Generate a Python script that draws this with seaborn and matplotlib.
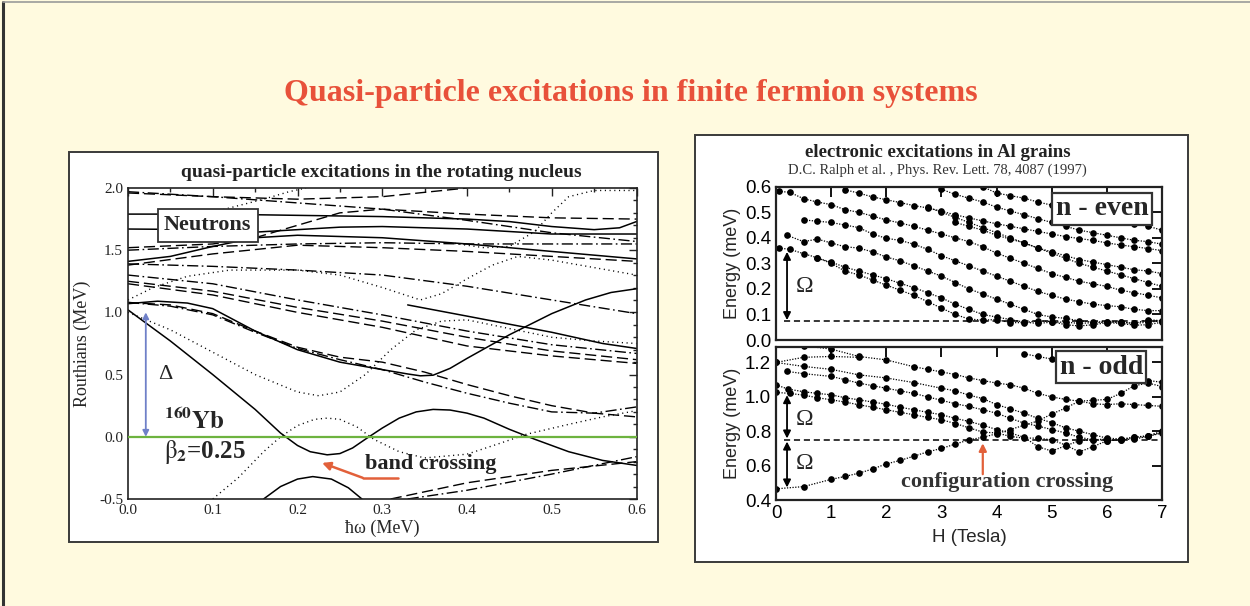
import numpy as np
import pandas as pd
import matplotlib
matplotlib.use("Agg")
import matplotlib.pyplot as plt
from matplotlib.lines import Line2D
from matplotlib.patches import Rectangle
import seaborn as sns

# ---------------- data: left panel (Routhians vs hbar*omega) ----------------
solid_1_x = [0, 0.05, 0.1, 0.15, 0.18, 0.2, 0.215, 0.235, 0.25, 0.265, 0.28, 0.3, 0.32, 0.34, 0.36, 0.38, 0.4, 0.42, 0.45, 0.48, 0.52, 0.56, 0.6]
solid_1_y = [1.02, 0.77, 0.5, 0.22, 0.03, -0.07, -0.12, -0.145, -0.135, -0.09, -0.02, 0.07, 0.15, 0.2, 0.22, 0.215, 0.19, 0.15, 0.06, -0.02, -0.12, -0.19, -0.23]
solid_2_x = [0, 0.035, 0.07, 0.1, 0.15, 0.2, 0.25, 0.3, 0.33, 0.345, 0.36, 0.38, 0.4, 0.45, 0.5, 0.54, 0.57, 0.6]
solid_2_y = [1.07, 1.09, 1.075, 1.03, 0.85, 0.7, 0.6, 0.54, 0.505, 0.49, 0.495, 0.55, 0.63, 0.82, 0.99, 1.1, 1.16, 1.19]
solid_3_x = [0.33, 0.4, 0.5, 0.56, 0.6]
solid_3_y = [1.06, 0.97, 0.84, 0.75, 0.71]
solid_4_x = [0, 0.05, 0.1, 0.15, 0.2, 0.3, 0.4, 0.5, 0.6]
solid_4_y = [1.41, 1.45, 1.53, 1.6, 1.62, 1.6, 1.55, 1.49, 1.43]
solid_5_x = [0, 0.1, 0.2, 0.3, 0.4, 0.45, 0.5, 0.55, 0.58, 0.6]
solid_5_y = [1.79, 1.79, 1.78, 1.77, 1.75, 1.73, 1.69, 1.665, 1.68, 1.73]
solid_6_x = [0, 0.1, 0.15, 0.2, 0.25, 0.3, 0.4, 0.5, 0.6]
solid_6_y = [1.67, 1.665, 1.645, 1.665, 1.685, 1.69, 1.67, 1.63, 1.63]
solid_7_x = [0.16, 0.18, 0.2, 0.218, 0.24, 0.26, 0.276]
solid_7_y = [-0.5, -0.4, -0.34, -0.32, -0.34, -0.41, -0.5]

dot_1_x = [0, 0.05, 0.1, 0.15, 0.2, 0.225, 0.25, 0.28, 0.31, 0.34, 0.37, 0.4, 0.45, 0.5, 0.55, 0.6]
dot_1_y = [1.0, 0.86, 0.68, 0.5, 0.36, 0.33, 0.36, 0.5, 0.7, 0.86, 0.93, 0.94, 0.87, 0.8, 0.77, 0.75]
dot_2_x = [0.1, 0.13, 0.16, 0.18, 0.2, 0.22, 0.235, 0.25, 0.27, 0.29, 0.32, 0.35, 0.4, 0.44, 0.47, 0.52, 0.56, 0.6]
dot_2_y = [-0.5, -0.33, -0.12, 0.0, 0.09, 0.14, 0.15, 0.14, 0.08, -0.02, -0.12, -0.17, -0.14, -0.05, 0.02, 0.1, 0.16, 0.21]
dot_3_x = [0, 0.03, 0.07, 0.12, 0.2, 0.25, 0.3, 0.345, 0.37, 0.4, 0.43, 0.46, 0.5, 0.55, 0.6]
dot_3_y = [1.1, 1.2, 1.29, 1.34, 1.34, 1.3, 1.2, 1.1, 1.15, 1.27, 1.38, 1.45, 1.42, 1.36, 1.3]
dot_4_x = [0.08, 0.12, 0.16, 0.19, 0.21]
dot_4_y = [1.77, 1.84, 1.91, 1.97, 2.0]
dot_5_x = [0.38, 0.42, 0.45, 0.48, 0.5, 0.52, 0.55, 0.6]
dot_5_y = [1.56, 1.52, 1.53, 1.65, 1.8, 1.93, 1.98, 1.98]

dash_1_x = [0, 0.05, 0.1, 0.15, 0.2, 0.25, 0.3, 0.35, 0.4, 0.45, 0.5, 0.55, 0.6]
dash_1_y = [1.08, 1.06, 0.99, 0.85, 0.72, 0.64, 0.6, 0.52, 0.42, 0.33, 0.25, 0.19, 0.16]
dash_2_x = [0, 0.1, 0.2, 0.3, 0.4, 0.5, 0.6]
dash_2_y = [1.25, 1.17, 1.04, 0.93, 0.8, 0.69, 0.62]
dash_3_x = [0, 0.1, 0.2, 0.3, 0.4, 0.5, 0.6]
dash_3_y = [1.23, 1.14, 1.0, 0.88, 0.73, 0.65, 0.59]
dash_4_x = [0.31, 0.4, 0.5, 0.6]
dash_4_y = [-0.5, -0.37, -0.27, -0.2]
dash_5_x = [0, 0.1, 0.2, 0.3, 0.4]
dash_5_y = [1.96, 1.93, 1.91, 1.93, 2.0]
dash_6_x = [0, 0.1, 0.15, 0.2, 0.25, 0.3, 0.4, 0.5, 0.6]
dash_6_y = [1.52, 1.55, 1.6, 1.7, 1.8, 1.83, 1.79, 1.76, 1.75]
dash_7_x = [0, 0.1, 0.2, 0.3, 0.4, 0.5, 0.6]
dash_7_y = [1.38, 1.47, 1.54, 1.52, 1.49, 1.45, 1.41]

dd_1_x = [0, 0.05, 0.1, 0.15, 0.2, 0.25, 0.3, 0.35, 0.4, 0.45, 0.5, 0.55, 0.6]
dd_1_y = [1.08, 1.05, 0.98, 0.84, 0.71, 0.62, 0.54, 0.44, 0.35, 0.27, 0.2, 0.19, 0.24]
dd_2_x = [0, 0.1, 0.2, 0.3, 0.4, 0.5, 0.6]
dd_2_y = [1.39, 1.37, 1.34, 1.3, 1.21, 1.1, 0.99]
dd_3_x = [0, 0.1, 0.2, 0.3, 0.4, 0.5, 0.6]
dd_3_y = [1.3, 1.23, 1.1, 0.98, 0.85, 0.74, 0.67]
dd_4_x = [0.33, 0.4, 0.5, 0.6]
dd_4_y = [-0.5, -0.43, -0.3, -0.16]
dd_5_x = [0, 0.1, 0.2, 0.3, 0.4, 0.5, 0.6]
dd_5_y = [1.97, 1.93, 1.88, 1.83, 1.74, 1.64, 1.57]
dd_6_x = [0, 0.1, 0.2, 0.3, 0.4, 0.5, 0.6]
dd_6_y = [1.5, 1.53, 1.55, 1.56, 1.55, 1.55, 1.55]

left_xticks = [0.0, 0.1, 0.2, 0.3, 0.4, 0.5, 0.6]
left_yticks = [-0.5, 0.0, 0.5, 1.0, 1.5, 2.0]

# ---------------- data: right panels (Al grains) ----------------
even_a_x = [0.05, 0.25, 0.5, 0.75, 1.0, 1.25, 1.5, 1.75, 2.0, 2.25, 2.5, 2.75, 3.0, 3.25, 3.5, 3.75, 4.0, 4.25, 4.5, 4.75, 5.0, 5.25, 5.5, 5.75, 6.0, 6.25, 6.5, 6.75, 7.0]
even_a_y = [0.36, 0.355, 0.338, 0.322, 0.3, 0.27, 0.255, 0.235, 0.215, 0.195, 0.175, 0.15, 0.125, 0.1, 0.082, 0.078, 0.08, 0.068, 0.068, 0.075, 0.072, 0.06, 0.055, 0.06, 0.068, 0.065, 0.058, 0.06, 0.07]
even_b_x = [0.75, 1.0, 1.25, 1.5, 1.75, 2.0, 2.25, 2.5, 2.75, 3.0, 3.25, 3.5, 3.75, 4.0, 4.25, 4.5, 4.75, 5.0, 5.25, 5.5, 5.75, 6.0, 6.25, 6.5, 6.75, 7.0]
even_b_y = [0.32, 0.305, 0.285, 0.27, 0.255, 0.24, 0.222, 0.205, 0.185, 0.165, 0.14, 0.12, 0.1, 0.09, 0.08, 0.07, 0.065, 0.07, 0.07, 0.065, 0.068, 0.07, 0.07, 0.065, 0.07, 0.075]
even_c_x = [0.2, 0.5, 0.75, 1.0, 1.25, 1.5, 1.75, 2.0, 2.25, 2.5, 2.75, 3.0, 3.25, 3.5, 3.75, 4.0, 4.25, 4.5, 4.75, 5.0, 5.25, 5.5, 5.75, 6.0, 6.25, 6.5, 6.75, 7.0]
even_c_y = [0.41, 0.385, 0.395, 0.38, 0.365, 0.36, 0.345, 0.325, 0.31, 0.29, 0.27, 0.25, 0.225, 0.2, 0.18, 0.16, 0.14, 0.12, 0.1, 0.09, 0.085, 0.075, 0.07, 0.072, 0.07, 0.065, 0.08, 0.075]
even_d_x = [0.5, 0.75, 1.0, 1.25, 1.5, 1.75, 2.0, 2.25, 2.5, 2.75, 3.0, 3.25, 3.5, 3.75, 4.0, 4.25, 4.5, 4.75, 5.0, 5.25, 5.5, 5.75, 6.0, 6.25, 6.5, 6.75, 7.0]
even_d_y = [0.47, 0.465, 0.46, 0.45, 0.44, 0.415, 0.398, 0.39, 0.375, 0.355, 0.33, 0.31, 0.29, 0.27, 0.25, 0.23, 0.21, 0.19, 0.175, 0.16, 0.15, 0.14, 0.135, 0.13, 0.12, 0.115, 0.115]
even_e_x = [0.05, 0.25, 0.5, 0.75, 1.0, 1.25, 1.5, 1.75, 2.0, 2.25, 2.5, 2.75, 3.0, 3.25, 3.5, 3.75, 4.0, 4.25, 4.5, 4.75, 5.0, 5.25, 5.5, 5.75, 6.0, 6.25, 6.5, 6.75, 7.0]
even_e_y = [0.582, 0.578, 0.553, 0.54, 0.53, 0.51, 0.5, 0.485, 0.47, 0.458, 0.445, 0.43, 0.415, 0.4, 0.385, 0.365, 0.34, 0.32, 0.3, 0.28, 0.26, 0.245, 0.23, 0.22, 0.21, 0.195, 0.185, 0.175, 0.165]
even_f_x = [1.25, 1.5, 1.75, 2.0, 2.25, 2.5, 2.75, 3.0, 3.25, 3.5, 3.75, 4.0, 4.25, 4.5, 4.75, 5.0, 5.25, 5.5, 5.75, 6.0, 6.25, 6.5, 6.75, 7.0]
even_f_y = [0.588, 0.575, 0.56, 0.549, 0.538, 0.526, 0.517, 0.504, 0.49, 0.478, 0.466, 0.455, 0.445, 0.435, 0.425, 0.415, 0.405, 0.397, 0.39, 0.38, 0.372, 0.365, 0.358, 0.35]
even_g_x = [2.75, 3.0, 3.25, 3.5, 3.75, 4.0, 4.25, 4.5, 4.75, 5.0, 5.25, 5.5, 5.75, 6.0, 6.25, 6.5, 6.75, 7.0]
even_g_y = [0.52, 0.5, 0.48, 0.46, 0.44, 0.42, 0.4, 0.38, 0.36, 0.34, 0.32, 0.3, 0.285, 0.27, 0.255, 0.24, 0.225, 0.21]
even_h_x = [3.0, 3.25, 3.5, 3.75, 4.0, 4.25, 4.5, 4.75, 5.0, 5.25, 5.5, 5.75, 6.0, 6.25, 6.5, 6.75, 7.0]
even_h_y = [0.59, 0.57, 0.555, 0.54, 0.52, 0.505, 0.49, 0.475, 0.46, 0.445, 0.43, 0.42, 0.41, 0.4, 0.39, 0.385, 0.375]
even_i_x = [3.75, 4.0, 4.25, 4.5, 4.75, 5.0, 5.25, 5.5, 5.75, 6.0, 6.25, 6.5, 6.75, 7.0]
even_i_y = [0.6, 0.575, 0.565, 0.555, 0.54, 0.528, 0.515, 0.505, 0.49, 0.48, 0.47, 0.455, 0.445, 0.43]
even_k_x = [3.25, 3.5, 3.75, 4.0, 4.25, 4.5, 4.75, 5.0, 5.25, 5.5, 5.75, 6.0, 6.25, 6.5, 6.75, 7.0]
even_k_y = [0.46, 0.445, 0.43, 0.41, 0.395, 0.38, 0.36, 0.345, 0.33, 0.315, 0.305, 0.295, 0.285, 0.275, 0.27, 0.26]

odd_1_x = [0.0, 0.5, 1.0, 1.25, 1.5, 1.75, 2.0, 2.25, 2.5, 2.75, 3.0, 3.25, 3.5, 3.75, 4.0, 4.25, 4.5, 4.75, 5.0, 5.25, 5.5, 5.75, 6.0, 6.25, 6.5, 6.75, 7.0]
odd_1_y = [0.465, 0.478, 0.52, 0.537, 0.556, 0.58, 0.61, 0.63, 0.655, 0.68, 0.7, 0.725, 0.75, 0.765, 0.785, 0.81, 0.835, 0.86, 0.9, 0.935, 0.975, 0.98, 0.985, 1.02, 1.065, 1.08, 1.06]
odd_a_x = [0.5, 1.0, 1.5, 2.0, 2.5, 2.75, 3.0, 3.25, 3.5, 3.75, 4.0, 4.25, 4.5, 4.75, 5.0, 5.25, 5.5, 5.75, 6.0, 6.25, 6.5, 6.75, 7.0]
odd_a_y = [1.297, 1.278, 1.235, 1.215, 1.175, 1.16, 1.145, 1.13, 1.11, 1.095, 1.08, 1.07, 1.05, 1.02, 1.0, 0.985, 0.975, 0.96, 0.955, 0.96, 0.955, 0.95, 0.945]
odd_b_x = [0.0, 0.5, 1.0, 1.5]
odd_b_y = [1.2, 1.23, 1.235, 1.23]
odd_c_x = [0.0, 0.5, 1.0, 1.5, 2.0, 2.5, 3.0, 3.25, 3.5, 3.75, 4.0, 4.25, 4.5, 4.75, 5.0, 5.25, 5.5, 5.75, 6.0, 6.25, 6.5, 6.75, 7.0]
odd_c_y = [1.2, 1.177, 1.16, 1.128, 1.11, 1.083, 1.05, 1.035, 1.01, 0.99, 0.955, 0.93, 0.905, 0.875, 0.85, 0.82, 0.8, 0.78, 0.76, 0.755, 0.765, 0.775, 0.8]
odd_d_x = [0.2, 0.5, 1.0, 1.25, 1.5, 1.75, 2.0, 2.25, 2.5, 2.75, 3.0, 3.25, 3.5, 3.75, 4.0, 4.25, 4.5, 4.75, 5.0, 5.25, 5.5, 5.75, 6.0, 6.25, 6.5, 6.75, 7.0]
odd_d_y = [1.148, 1.135, 1.119, 1.1, 1.08, 1.065, 1.05, 1.035, 1.02, 1.0, 0.98, 0.96, 0.944, 0.925, 0.905, 0.875, 0.847, 0.83, 0.81, 0.79, 0.765, 0.75, 0.746, 0.75, 0.755, 0.77, 0.79]
odd_e_x = [0.0, 0.22, 0.5, 0.75, 1.0, 1.25, 1.5, 1.75, 2.0, 2.25, 2.5, 2.75, 3.0, 3.25, 3.5, 3.75, 4.0, 4.25, 4.5, 4.75, 5.0, 5.25, 5.5, 5.75, 6.0]
odd_e_y = [1.07, 1.045, 1.03, 1.02, 1.012, 0.995, 0.983, 0.97, 0.957, 0.94, 0.925, 0.91, 0.896, 0.875, 0.857, 0.835, 0.81, 0.79, 0.765, 0.71, 0.685, 0.715, 0.745, 0.75, 0.755]
odd_f_x = [0.0, 0.25, 0.5, 0.75, 1.0, 1.25, 1.5, 1.75, 2.0, 2.25, 2.5, 2.75, 3.0, 3.25, 3.5, 3.75, 4.0, 4.25, 4.5, 4.75, 5.0, 5.25, 5.5, 5.75, 6.0, 6.25, 6.5, 6.75, 7.0]
odd_f_y = [1.026, 1.02, 1.01, 0.995, 0.983, 0.97, 0.954, 0.94, 0.925, 0.91, 0.896, 0.88, 0.867, 0.845, 0.82, 0.795, 0.79, 0.77, 0.76, 0.76, 0.75, 0.72, 0.68, 0.71, 0.745, 0.75, 0.765, 0.77, 0.795]
odd_h_x = [4.5, 4.75, 5.0, 6.25, 6.5, 6.75, 7.0]
odd_h_y = [1.25, 1.235, 1.22, 1.13, 1.11, 1.095, 1.085]

right_xticks = [0, 1, 2, 3, 4, 5, 6, 7]
even_yticks = [0.0, 0.1, 0.2, 0.3, 0.4, 0.5, 0.6]
odd_yticks = [0.4, 0.6, 0.8, 1.0, 1.2]


def frame(pairs):
    rows = []
    for name, xs, ys in pairs:
        for xv, yv in zip(xs, ys):
            rows.append((name, xv, yv))
    return pd.DataFrame(rows, columns=["curve", "x", "y"])


# ---------------- style ----------------
sns.set_style("white")
plt.rcParams["font.family"] = ["Liberation Serif", "DejaVu Serif"]
plt.rcParams["mathtext.fontset"] = "stix"
plt.rcParams["axes.unicode_minus"] = False

SANS = ["Liberation Sans", "DejaVu Sans"]
BG = "#FFFADF"
fig = plt.figure(figsize=(12.5, 6.06), dpi=100, facecolor=BG)

# outer frame of the slide
fig.add_artist(Line2D([0.0025, 0.0025], [0.0, 0.996], transform=fig.transFigure, color="#333333", lw=2.2))
fig.add_artist(Line2D([0.0025, 1.0], [0.996, 0.996], transform=fig.transFigure, color="#9a9a9a", lw=1.2))

# white panels
fig.add_artist(Rectangle((0.0552, 0.1056), 0.4712, 0.6436, transform=fig.transFigure,
                         facecolor="white", edgecolor="#3a3a3a", lw=1.4, zorder=-1))
fig.add_artist(Rectangle((0.556, 0.0726), 0.3944, 0.7046, transform=fig.transFigure,
                         facecolor="white", edgecolor="#3a3a3a", lw=1.4, zorder=-1))

fig.text(0.505, 0.846, "Quasi-particle excitations in finite fermion systems", ha="center", va="center",
         fontsize=23, fontweight="bold", color="#E8513A")

# ---------------- left panel ----------------
axL = fig.add_axes([0.1024, 0.1766, 0.4068, 0.5132])
axL.set_facecolor("white")

solid_df = frame([("s1", solid_1_x, solid_1_y), ("s2", solid_2_x, solid_2_y), ("s3", solid_3_x, solid_3_y),
                  ("s4", solid_4_x, solid_4_y), ("s5", solid_5_x, solid_5_y), ("s6", solid_6_x, solid_6_y),
                  ("s7", solid_7_x, solid_7_y)])
dot_df = frame([("d1", dot_1_x, dot_1_y), ("d2", dot_2_x, dot_2_y), ("d3", dot_3_x, dot_3_y),
                ("d4", dot_4_x, dot_4_y), ("d5", dot_5_x, dot_5_y)])
dash_df = frame([("a1", dash_1_x, dash_1_y), ("a2", dash_2_x, dash_2_y), ("a3", dash_3_x, dash_3_y),
                 ("a4", dash_4_x, dash_4_y), ("a5", dash_5_x, dash_5_y), ("a6", dash_6_x, dash_6_y),
                 ("a7", dash_7_x, dash_7_y)])
dd_df = frame([("b1", dd_1_x, dd_1_y), ("b2", dd_2_x, dd_2_y), ("b3", dd_3_x, dd_3_y),
               ("b4", dd_4_x, dd_4_y), ("b5", dd_5_x, dd_5_y), ("b6", dd_6_x, dd_6_y)])

sns.lineplot(data=solid_df, x="x", y="y", units="curve", estimator=None, sort=False, color="black",
             lw=1.1, ax=axL, legend=False)
sns.lineplot(data=dot_df, x="x", y="y", units="curve", estimator=None, sort=False, color="black",
             lw=1.0, linestyle=(0, (0.8, 2.6)), ax=axL, legend=False)
sns.lineplot(data=dash_df, x="x", y="y", units="curve", estimator=None, sort=False, color="black",
             lw=1.0, linestyle=(0, (8, 3.5)), ax=axL, legend=False)
sns.lineplot(data=dd_df, x="x", y="y", units="curve", estimator=None, sort=False, color="black",
             lw=1.0, linestyle=(0, (8, 2.5, 1.2, 2.5)), ax=axL, legend=False)

axL.axhline(0.0, color="#6DB33F", lw=1.6, zorder=3)
axL.set_xlim(0.0, 0.6)
axL.set_ylim(-0.5, 2.0)
axL.set_xticks(left_xticks)
axL.set_yticks(left_yticks)
axL.set_xticklabels([f"{v:.1f}" for v in left_xticks])
axL.set_yticklabels([f"{v:.1f}" for v in left_yticks])
axL.xaxis.set_minor_locator(matplotlib.ticker.MultipleLocator(0.05))
axL.yaxis.set_minor_locator(matplotlib.ticker.MultipleLocator(0.1))
axL.tick_params(which="both", direction="in", top=True, right=True, labelsize=11, width=1.0, colors="#222222")
axL.tick_params(which="major", length=6)
axL.tick_params(which="minor", length=3)
for sp in axL.spines.values():
    sp.set_linewidth(1.2)
    sp.set_color("#222222")
axL.set_xlabel("ħω (MeV)", fontsize=13, labelpad=2)
axL.set_ylabel("Routhians (MeV)", fontsize=13, labelpad=6)
fig.text(0.305, 0.716, "quasi-particle excitations in the rotating nucleus", ha="center", va="center",
         fontsize=14, fontweight="bold", color="#222222")

axL.text(0.094, 1.70, "Neutrons", ha="center", va="center", fontsize=16, fontweight="bold", zorder=6,
         bbox=dict(boxstyle="square,pad=0.28", facecolor="white", edgecolor="#333333", lw=1.3))
axL.annotate("", xy=(0.021, 0.0), xytext=(0.021, 1.0),
             arrowprops=dict(arrowstyle="<|-|>", color="#6F80C8", lw=1.3, mutation_scale=9, shrinkA=0, shrinkB=0))
axL.text(0.035, 0.5, "Δ", ha="left", va="center", fontsize=16)
axL.text(0.043, 0.13, r"$\mathbf{^{160}Yb}$", ha="left", va="center", fontsize=18)
axL.text(0.043, -0.12, r"$\mathrm{\beta}_{\mathbf{2}}$=0.25", ha="left", va="center", fontsize=18,
         fontweight="bold")
axL.text(0.28, -0.22, "band crossing", ha="left", va="center", fontsize=16, fontweight="bold", color="#222222")
axL.plot([0.318, 0.277], [-0.33, -0.33], color="#E2603A", lw=1.8)
axL.annotate("", xy=(0.229, -0.21), xytext=(0.277, -0.33),
             arrowprops=dict(arrowstyle="-|>", color="#E2603A", lw=1.8, mutation_scale=12, shrinkA=0, shrinkB=0))

# ---------------- right panels ----------------
axT = fig.add_axes([0.6208, 0.4389, 0.3088, 0.253])
axB = fig.add_axes([0.6208, 0.1749, 0.3088, 0.2525])

even_df = frame([("a", even_a_x, even_a_y), ("b", even_b_x, even_b_y), ("c", even_c_x, even_c_y),
                 ("d", even_d_x, even_d_y), ("e", even_e_x, even_e_y), ("f", even_f_x, even_f_y),
                 ("g", even_g_x, even_g_y), ("h", even_h_x, even_h_y), ("i", even_i_x, even_i_y),
                 ("k", even_k_x, even_k_y)])
odd_df = frame([("1", odd_1_x, odd_1_y), ("a", odd_a_x, odd_a_y), ("b", odd_b_x, odd_b_y),
                ("c", odd_c_x, odd_c_y), ("d", odd_d_x, odd_d_y), ("e", odd_e_x, odd_e_y),
                ("f", odd_f_x, odd_f_y), ("h", odd_h_x, odd_h_y)])

for ax, df in ((axT, even_df), (axB, odd_df)):
    sns.lineplot(data=df, x="x", y="y", units="curve", estimator=None, sort=False, color="black",
                 lw=0.9, linestyle=(0, (1, 1.2)), marker="o", markersize=4.8, markeredgewidth=0,
                 ax=ax, legend=False, clip_on=True)
    ax.set_facecolor("white")
    ax.set_xlim(0, 7)
    ax.set_xticks(right_xticks)
    ax.tick_params(which="both", direction="in", top=True, right=True, length=7, width=1.3,
                   labelsize=13.5, colors="black")
    for sp in ax.spines.values():
        sp.set_linewidth(1.6)
        sp.set_color("#222222")
    ax.set_xlabel("")
    ax.set_ylabel("Energy (meV)", fontsize=13, family=SANS, labelpad=3)

axT.set_ylim(0.0, 0.6)
axT.set_yticks(even_yticks)
axT.set_yticklabels([f"{v:.1f}" for v in even_yticks], family=SANS)
axT.set_xticklabels([])
axB.set_ylim(0.4, 1.29)
axB.set_yticks(odd_yticks)
axB.set_yticklabels([f"{v:.1f}" for v in odd_yticks], family=SANS)
axB.set_xticklabels([str(v) for v in right_xticks], family=SANS)
axB.set_xlabel("H (Tesla)", fontsize=13.5, family=SANS, labelpad=5)

axT.axhline(0.073, xmin=0.02, xmax=1.0, color="black", lw=1.1, linestyle=(0, (4, 2.5)))
axB.axhline(0.75, xmin=0.02, xmax=1.0, color="black", lw=1.1, linestyle=(0, (4, 2.5)))

arrow_kw = dict(arrowstyle="<|-|>", color="black", lw=1.3, mutation_scale=11, shrinkA=0, shrinkB=0)
axT.annotate("", xy=(0.2, 0.078), xytext=(0.2, 0.345), arrowprops=arrow_kw)
axB.annotate("", xy=(0.2, 0.758), xytext=(0.2, 1.01), arrowprops=arrow_kw)
axB.annotate("", xy=(0.2, 0.473), xytext=(0.2, 0.74), arrowprops=arrow_kw)
axT.text(0.35, 0.21, "Ω", fontsize=17, ha="left", va="center")
axB.text(0.35, 0.87, "Ω", fontsize=17, ha="left", va="center")
axB.text(0.35, 0.61, "Ω", fontsize=17, ha="left", va="center")

axT.text(5.91, 0.513, "n - even", ha="center", va="center", fontsize=20, fontweight="bold", zorder=6,
         bbox=dict(boxstyle="square,pad=0.12", facecolor="white", edgecolor="#333333", lw=1.6))
axB.text(5.9, 1.173, "n - odd", ha="center", va="center", fontsize=20, fontweight="bold", zorder=6,
         bbox=dict(boxstyle="square,pad=0.12", facecolor="white", edgecolor="#333333", lw=1.6))

axB.text(4.2, 0.505, "configuration crossing", ha="center", va="center", fontsize=16,
         fontweight="bold", color="#333333")
axB.annotate("", xy=(3.75, 0.73), xytext=(3.75, 0.55),
             arrowprops=dict(arrowstyle="-|>", color="#E2603A", lw=1.6, mutation_scale=11, shrinkA=0, shrinkB=0))

fig.text(0.750, 0.749, "electronic excitations in Al grains", ha="center", va="center",
         fontsize=13.5, fontweight="bold", color="#222222")
fig.text(0.750, 0.7195, "D.C. Ralph et al. , Phys. Rev. Lett. 78, 4087 (1997)", ha="center", va="center",
         fontsize=10.5, color="#333333")

fig.savefig("out.png", dpi=100, facecolor=BG)
